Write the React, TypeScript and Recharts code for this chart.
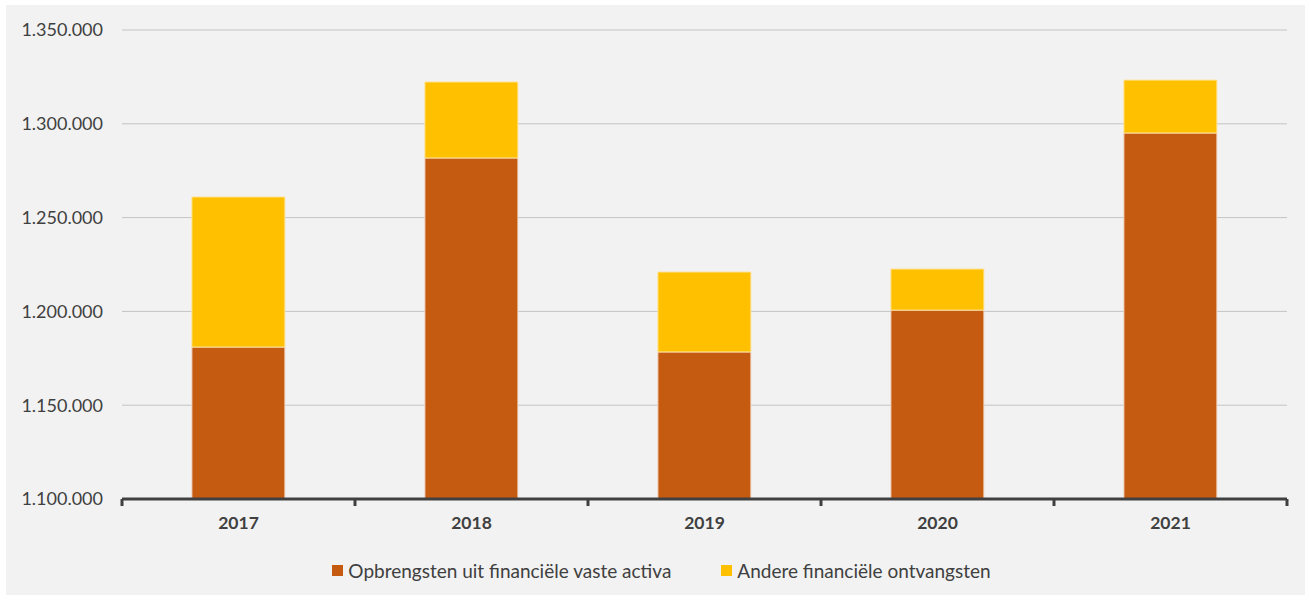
import { BarChart, Bar, XAxis, YAxis, CartesianGrid } from 'recharts'

const years = ['2017', '2018', '2019', '2020', '2021']
const opbrengsten = [1181000, 1281800, 1178400, 1200700, 1295100]
const andere = [80000, 40500, 42600, 21900, 28200]
const yTicks = [1100000, 1150000, 1200000, 1250000, 1300000, 1350000]
const boundaryTicks = [0, 1, 2, 3, 4, 5]

const data = years.map((year, i) => ({
  year,
  idx: i + 0.5,
  opbrengsten: opbrengsten[i],
  andere: andere[i],
}))

const fmt = (v: number) => v.toLocaleString('de-DE')

const font = 'Lato, Calibri, "Open Sans", sans-serif'

const CustomLegend = () => (
  <div
    style={{
      display: 'flex',
      justifyContent: 'center',
      gap: 50,
      fontFamily: font,
      fontSize: 19,
      color: '#404040',
      paddingLeft: 12,
    }}
  >
    {[
      { label: 'Opbrengsten uit financiële vaste activa', color: '#C55A11' },
      { label: 'Andere financiële ontvangsten', color: '#FFC000' },
    ].map((item) => (
      <div key={item.label} style={{ display: 'flex', alignItems: 'center' }}>
        <span
          style={{
            display: 'inline-block',
            width: 11,
            height: 11,
            background: item.color,
            marginRight: 5,
          }}
        />
        {item.label}
      </div>
    ))}
  </div>
)

export default function App() {
  return (
    <div style={{ position: 'absolute', left: 0, top: 0, width: 1311, height: 600, background: '#fff' }}>
      <div style={{ position: 'absolute', left: 6, top: 5, width: 1299, height: 590, background: '#F2F2F2' }}>
        <BarChart
          width={1299}
          height={590}
          data={data}
          barCategoryGap="30%"
          margin={{ top: 25, right: 18, left: 6, bottom: 65 }}
        >
          <CartesianGrid horizontal vertical={false} stroke="#C4C4C4" />
          <XAxis
            xAxisId="b"
            dataKey="year"
            axisLine={false}
            tickLine={false}
            tickSize={0}
            tickMargin={17}
            height={30}
            tick={{ fontSize: 17.5, fontWeight: 'bold', fill: '#404040', fontFamily: font }}
          />
          <XAxis
            xAxisId="a"
            dataKey="idx"
            type="number"
            domain={[0, 5]}
            ticks={boundaryTicks}
            tick={() => <g />}
            height={1}
            axisLine={{ stroke: '#404040', strokeWidth: 3 }}
            tickLine={{ stroke: '#404040', strokeWidth: 3 }}
            tickSize={7}
          />
          <YAxis
            domain={[1100000, 1350000]}
            ticks={yTicks}
            allowDataOverflow
            axisLine={false}
            tickLine={false}
            tickSize={0}
            tickMargin={19}
            width={110}
            tickFormatter={fmt}
            tick={{ fontSize: 18, fill: '#404040', fontFamily: font }}
          />
          <Bar
            xAxisId="b"
            dataKey="opbrengsten"
            stackId="s"
            fill="#C55A11"
            stroke="#F2D7C6"
            strokeWidth={1}
            isAnimationActive={false}
          />
          <Bar
            xAxisId="b"
            dataKey="andere"
            stackId="s"
            fill="#FFC000"
            stroke="#FFE39A"
            strokeWidth={1}
            isAnimationActive={false}
          />
        </BarChart>
        <div style={{ position: 'absolute', left: 0, top: 554, width: 1299 }}>
          <CustomLegend />
        </div>
      </div>
    </div>
  )
}
